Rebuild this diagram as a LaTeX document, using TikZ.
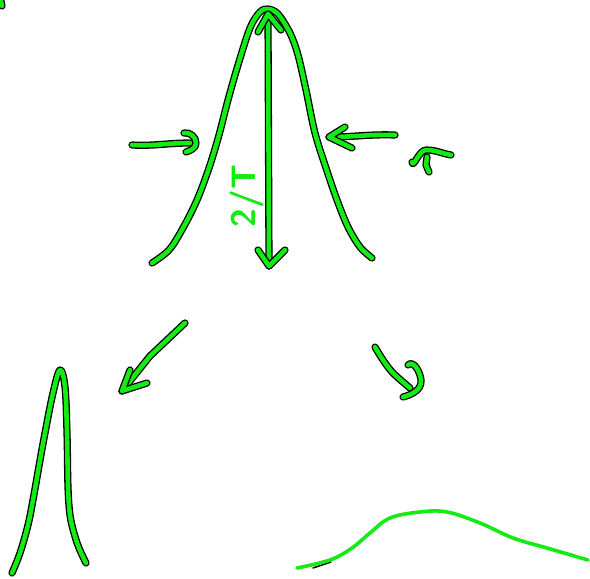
\documentclass[tikz,border=0pt]{standalone}
\usepackage{tikz}
\usetikzlibrary{calc}
\definecolor{inkgreen}{RGB}{20,235,20}

\begin{document}
\begin{tikzpicture}[
    x=1pt,y=-1pt,
    ink/.style={draw=inkgreen,line width=4.6pt,line cap=round,line join=round,
      preaction={draw=black,line width=7.2pt,line cap=round,line join=round}},
    flat/.style={draw=inkgreen,line width=3.6pt,line cap=round,line join=round},
    lbl/.style={text=inkgreen,font=\sffamily\bfseries\fontsize{34}{34}\selectfont,rotate=90,inner sep=0pt}
  ]
    \useasboundingbox[fill=white] (0,0) rectangle (590,579);

    % Breite Glockenkurve oben mit Hoehenpfeil
    \draw[ink] plot[smooth,tension=0.55] coordinates {(152,263) (169,250) (183,228) (197,200)
      (209,168) (219,135) (228,100) (238,65) (250,28) (260,12) (268,9) (278,14) (290,33) (298,55)
      (306,90) (315,133) (326,168) (337,200) (348,227) (360,247) (372,258)};
    \coordinate (top) at (268,14);
    \coordinate (bot) at (269,266);
    \draw[ink] (top) -- (bot);
    \draw[ink] (258,32) -- (top) -- (281,30);
    \draw[ink] (258,250) -- (bot) -- (285,250);
    \node[lbl] (width) at (247,196) {2/T};

    % seitliche Pfeile zur Kurve hin
    \coordinate (lin) at (132,145);
    \coordinate (lhead) at (190,143);
    \draw[ink] (lin) to[out=-3,in=180] (lhead);
    \draw[ink] (184,133) to[out=10,in=90] (196,143) to[out=-90,in=20] (186,152);
    \coordinate (rin) at (395,135);
    \coordinate (rhead) at (329,137);
    \draw[ink] (rin) to[out=178,in=0] (rhead);
    \draw[ink] (345,127) -- (rhead) -- (352,148);
    \draw[ink] (412,162) to[out=-80,in=180] (426,150) to[out=0,in=170] (451,155);
    \draw[ink] (427,157) -- (426,165) -- (429,172);

    % Pfeile nach unten
    \coordinate (bl1) at (185,323);
    \coordinate (bl2) at (122,391);
    \draw[ink] (bl1) -- (150,356) -- (bl2);
    \draw[ink] (130,370) -- (bl2) -- (147,383);
    \coordinate (br1) at (375,347);
    \coordinate (br2) at (410,388);
    \draw[ink] plot[smooth] coordinates {(br1) (383,360) (393,373) (br2)};
    \draw[ink] (408,365) to[out=45,in=95] (421,380) to[out=-85,in=15] (403,397);

    % schmaler Peak unten links
    \draw[ink] plot[smooth,tension=0.6] coordinates {(12,573) (20,553) (28,525) (33,500) (39,466)
      (45,433) (53,393) (60,370) (65,387) (67,433) (68,487) (70,515) (74,533) (79,548) (86,563)};

    % flache Kurve unten rechts
    \draw[black,line width=1.5pt,line cap=round] (313,568) -- (331,562);
    \draw[flat] plot[smooth,tension=0.6] coordinates {(297,568) (330,560) (352,548) (370,533)
      (390,518) (420,512) (447,512) (480,523) (513,538) (547,548) (588,560)};

    % Rest am Rand
    \draw[ink] (1,1) -- (2,6);
  \end{tikzpicture}
\end{document}
